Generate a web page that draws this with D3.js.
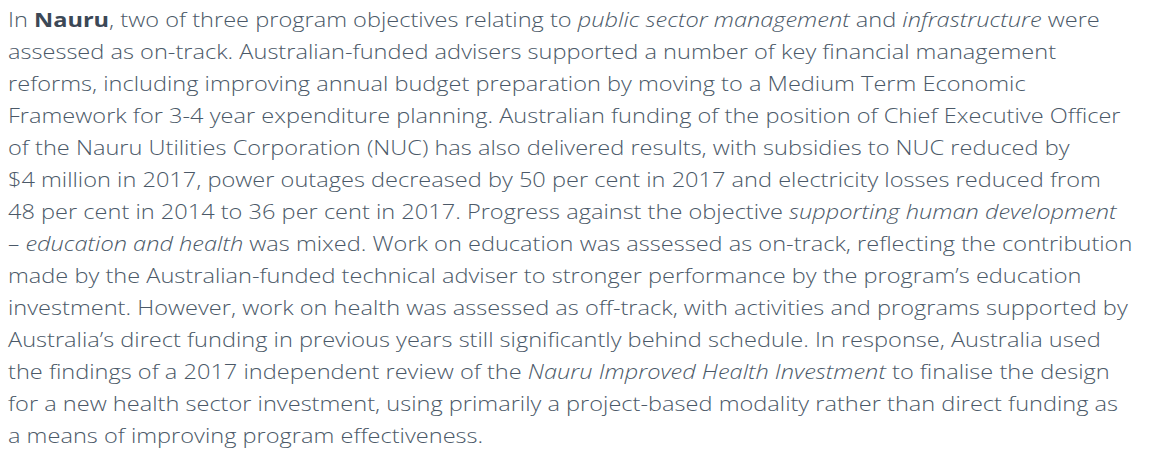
<!DOCTYPE html>
<html lang="en">

<head>
    <meta charset="UTF-8">
    <title>Nauru</title>
    <script src="https://cdnjs.cloudflare.com/ajax/libs/d3/7.8.5/d3.min.js"></script>
    <style>
        body { margin: 0; background: #fff; }
    </style>
</head>

<body>
    <div id="chart"></div>
    <script>
        // 段落的每一行, *斜體* 和 **粗體**
        const lines = [
            "In **Nauru**, two of three program objectives relating to *public sector management* and *infrastructure* were",
            "assessed as on-track. Australian-funded advisers supported a number of key financial management",
            "reforms, including improving annual budget preparation by moving to a Medium Term Economic",
            "Framework for 3-4 year expenditure planning. Australian funding of the position of Chief Executive Officer",
            "of the Nauru Utilities Corporation (NUC) has also delivered results, with subsidies to NUC reduced by",
            "$4 million in 2017, power outages decreased by 50 per cent in 2017 and electricity losses reduced from",
            "48 per cent in 2014 to 36 per cent in 2017. Progress against the objective *supporting human development*",
            "*– education and health* was mixed. Work on education was assessed as on-track, reflecting the contribution",
            "made by the Australian-funded technical adviser to stronger performance by the program’s education",
            "investment. However, work on health was assessed as off-track, with activities and programs supported by",
            "Australia’s direct funding in previous years still significantly behind schedule. In response, Australia used",
            "the findings of a 2017 independent review of the *Nauru Improved Health Investment* to finalise the design",
            "for a new health sector investment, using primarily a project-based modality rather than direct funding as",
            "a means of improving program effectiveness."
        ];

        const width = 1152, height = 450;
        const left = 8, firstBase = 27, lineHeight = 32;
        // 原圖第一行的寬度 (字型較寬)
        const firstLineWidth = 1092;

        const svg = d3.select('#chart')
            .append('svg')
            .attr('width', width)
            .attr('height', height);

        // 行的位置
        const y = d3.scaleLinear()
            .domain([0, 1])
            .range([firstBase, firstBase + lineHeight]);

        // 把一行拆成 {text, style}
        function parse(line) {
            const parts = [];
            const re = /(\*\*[^*]+\*\*|\*[^*]+\*)/g;
            let last = 0, m;
            while ((m = re.exec(line)) !== null) {
                if (m.index > last) parts.push({ t: line.slice(last, m.index), s: 'n' });
                if (m[0].startsWith('**')) parts.push({ t: m[0].slice(2, -2), s: 'b' });
                else parts.push({ t: m[0].slice(1, -1), s: 'i' });
                last = m.index + m[0].length;
            }
            if (last < line.length) parts.push({ t: line.slice(last), s: 'n' });
            return parts;
        }

        const g = svg.append('g');

        const text = g.selectAll('text.line')
            .data(lines)
            .enter()
            .append('text')
            .attr('class', 'line')
            .attr('x', 0)
            .attr('y', (d, i) => y(i))
            .attr('font-family', '"Open Sans", sans-serif')
            .attr('font-weight', 300)
            .attr('font-size', 20)
            .attr('fill', '#4b5968')
            .attr('xml:space', 'preserve');

        text.selectAll('tspan')
            .data(d => parse(d))
            .enter()
            .append('tspan')
            .text(d => d.t)
            .attr('font-style', d => d.s === 'i' ? 'italic' : null)
            .attr('font-weight', d => d.s === 'b' ? 700 : null)
            .attr('fill', d => d.s === 'b' ? '#3c4856' : null);

        // 橫向拉寬, 讓第一行和原圖一樣長
        const natural = text.node().getComputedTextLength();
        const k = natural > 0 ? firstLineWidth / natural : 1.18;
        g.attr('transform', `translate(${left},0) scale(${k},1)`);
    </script>
</body>

</html>
